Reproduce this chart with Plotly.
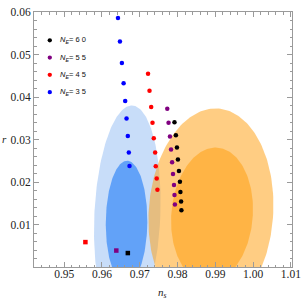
import numpy as np
import plotly.graph_objects as go

# ---- data ----
ns_60 = [0.97919, 0.97956, 0.97984, 0.98010, 0.98037, 0.98063, 0.98076, 0.98094, 0.98102]
r_60 = [0.03404, 0.03102, 0.02813, 0.02529, 0.02259, 0.02007, 0.01762, 0.01542, 0.01336]
ns_55 = [0.97728, 0.97762, 0.97799, 0.97828, 0.97856, 0.97880, 0.97906, 0.97919, 0.97930]
r_55 = [0.03725, 0.03393, 0.03068, 0.02763, 0.02465, 0.02190, 0.01931, 0.01693, 0.01473]
ns_45 = [0.97219, 0.97258, 0.97303, 0.97337, 0.97371, 0.97407, 0.97423, 0.97449, 0.97467]
r_45 = [0.04550, 0.04149, 0.03764, 0.03393, 0.03031, 0.02694, 0.02373, 0.02082, 0.01817]
ns_35 = [0.96423, 0.96475, 0.96527, 0.96572, 0.96614, 0.96650, 0.96684, 0.96710, 0.96728]
r_35 = [0.05856, 0.05306, 0.04802, 0.04321, 0.03908, 0.03496, 0.03084, 0.02694, 0.02374]

sq_ns = [0.96684, 0.96379, 0.95561]
sq_r = [0.00328, 0.00387, 0.00586]
sq_colors = ["black", "purple", "red"]

legend_labels = ["60", "55", "45", "35"]
series_colors = ["black", "purple", "red", "blue"]

x_ticks = [0.95, 0.96, 0.97, 0.98, 0.99, 1.00, 1.01]
x_ticklabels = ["0.95", "0.96", "0.97", "0.98", "0.99", "1.00", "1.01"]
y_ticks = [0.01, 0.02, 0.03, 0.04, 0.05, 0.06]
y_ticklabels = ["0.01", "0.02", "0.03", "0.04", "0.05", "0.06"]

# confidence regions: (center ns, center r, half-width ns, half-height r, shear)
blue_outer = (0.96670, 0.0120, 0.00874, 0.0260, 0.046)
blue_inner = (0.96650, 0.0105, 0.00550, 0.0145, 0.010)
orange_outer = (0.98884, 0.0128, 0.01650, 0.0245, 0.050)
orange_inner = (0.98913, 0.0122, 0.01080, 0.0159, 0.060)


def region(p):
    cx, cy, a, b, k = p
    t = np.linspace(0, 2 * np.pi, 241)
    y = cy + b * np.sin(t)
    x = cx + a * np.cos(t) + k * (y - cy)
    return x, y


fig = go.Figure()
for p, col in [(blue_outer, "#c8ddf9"), (blue_inner, "#62a2f8"),
               (orange_outer, "rgba(255,160,18,0.52)"), (orange_inner, "rgba(255,160,18,0.55)")]:
    x, y = region(p)
    fig.add_trace(go.Scatter(x=x, y=y, mode="lines", fill="toself", fillcolor=col,
                             line=dict(width=0), hoverinfo="skip", showlegend=False))

for xs, ys, c in [(ns_35, r_35, "blue"), (ns_45, r_45, "red"), (ns_55, r_55, "purple"), (ns_60, r_60, "black")]:
    fig.add_trace(go.Scatter(x=xs, y=ys, mode="markers", marker=dict(color=c, size=4.5),
                             showlegend=False))

fig.add_trace(go.Scatter(x=sq_ns, y=sq_r, mode="markers",
                         marker=dict(color=sq_colors, size=4.5, symbol="square"), showlegend=False))

axis_common = dict(showgrid=False, zeroline=False, showline=True, linecolor="#9a9a9a", linewidth=1,
                   mirror="ticks", ticks="inside", ticklen=5, tickcolor="#9a9a9a", tickwidth=1,
                   tickfont=dict(family="Liberation Serif", size=11.5, color="#222"))

fig.update_xaxes(range=[0.942, 1.0103], tickvals=x_ticks, ticktext=x_ticklabels,
                 ticklabelstandoff=-4,
                 minor=dict(ticks="inside", ticklen=2.5, dtick=0.002, tick0=0.95, tickcolor="#9a9a9a"),
                 **axis_common)
fig.update_yaxes(range=[0.0, 0.06], tickvals=y_ticks, ticktext=y_ticklabels,
                 minor=dict(ticks="inside", ticklen=2.5, dtick=0.002, tick0=0.0, tickcolor="#9a9a9a"),
                 **axis_common)

annotations = []
shapes = []
leg_x0 = 50  # px in figure
leg_y0 = 35
plot_l, plot_r, plot_t, plot_b = 34, 295.3, 6, 267.2
W, H = 307, 301
for i, (lab, col) in enumerate(zip(legend_labels, series_colors)):
    cy = leg_y0 + i * 17.7
    px = (leg_x0 - plot_l) / (plot_r - plot_l)
    py = (plot_b - cy) / (plot_b - plot_t)
    dx = 2.2 / (plot_r - plot_l)
    dy = 2.2 / (plot_b - plot_t)
    shapes.append(dict(type="circle", xref="paper", yref="paper", x0=px - dx, x1=px + dx,
                       y0=py - dy, y1=py + dy, fillcolor=col, line=dict(width=0)))
    annotations.append(dict(xref="paper", yref="paper", x=(leg_x0 + 8.5 - plot_l) / (plot_r - plot_l), y=py,
                            xanchor="left", yanchor="middle", showarrow=False,
                            text="<i>N</i><sub><i>E</i></sub>= " + " ".join(lab),
                            font=dict(family="Liberation Sans", size=7.5, color="#111")))

annotations.append(dict(xref="paper", yref="paper", x=(164 - plot_l) / (plot_r - plot_l),
                        y=(plot_b - 294) / (plot_b - plot_t), xanchor="center", yanchor="middle",
                        showarrow=False, text="<i>n</i><sub><i>s</i></sub>",
                        font=dict(family="Liberation Serif", size=11, color="#222")))
annotations.append(dict(xref="paper", yref="paper", x=(4 - plot_l) / (plot_r - plot_l),
                        y=(plot_b - 136) / (plot_b - plot_t), xanchor="center", yanchor="middle",
                        showarrow=False, text="<i>r</i>",
                        font=dict(family="Liberation Serif", size=11, color="#222")))

fig.update_layout(width=W, height=H, margin=dict(l=34, r=W - 295.3, t=6, b=H - 267.2),
                  paper_bgcolor="white", plot_bgcolor="white", showlegend=False,
                  annotations=annotations, shapes=shapes)

fig.write_html("out.html", config={"displayModeBar": False},
               post_script="document.body.style.margin='0';document.body.style.overflow='hidden';")
